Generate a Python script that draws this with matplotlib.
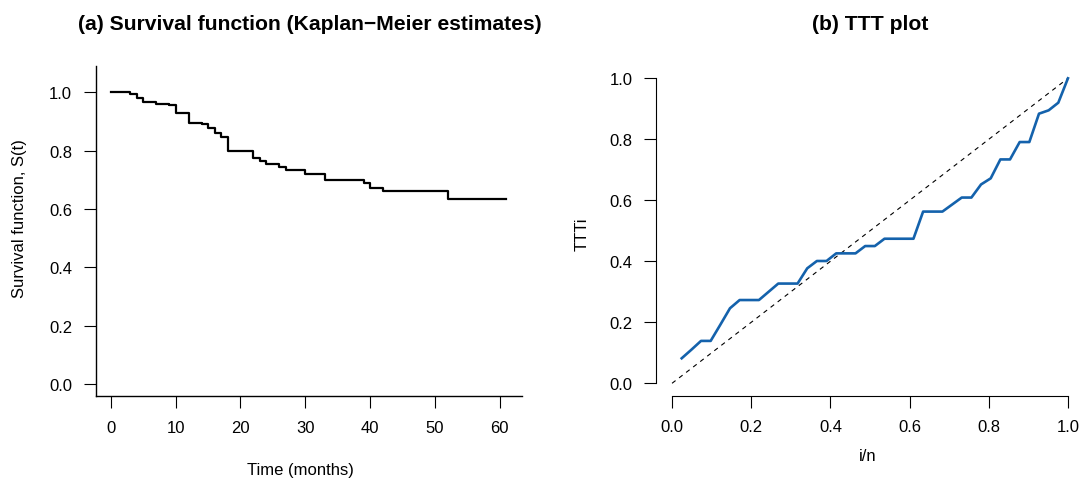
import matplotlib
matplotlib.use("Agg")
import matplotlib.pyplot as plt

plt.rcParams['font.family'] = ['Liberation Sans', 'DejaVu Sans']

# ---- Data ----
km_time = [0, 3, 4, 5, 7, 9, 10, 12, 14, 15, 16, 17, 18, 22, 23, 24, 26, 27, 30, 33, 39, 40, 42, 52, 61]
km_surv = [1.000, 0.993, 0.982, 0.967, 0.961, 0.955, 0.930, 0.896, 0.890, 0.879, 0.862, 0.845, 0.800,
           0.776, 0.765, 0.753, 0.744, 0.734, 0.720, 0.700, 0.688, 0.673, 0.660, 0.635, 0.635]

n_ttt = 41
ttt_i = list(range(1, n_ttt + 1))
ttt_val = [0.082, 0.110, 0.139, 0.139, 0.192, 0.246, 0.273, 0.273, 0.273, 0.300,
           0.327, 0.327, 0.327, 0.377, 0.401, 0.401, 0.426, 0.426, 0.426, 0.450,
           0.450, 0.474, 0.474, 0.474, 0.474, 0.563, 0.563, 0.563, 0.586, 0.609,
           0.609, 0.652, 0.672, 0.734, 0.734, 0.791, 0.791, 0.884, 0.895, 0.920,
           1.000]
ttt_x = [i / n_ttt for i in ttt_i]

km_xticks = [0, 10, 20, 30, 40, 50, 60]
unit_ticks = [0.0, 0.2, 0.4, 0.6, 0.8, 1.0]

# ---- Figure ----
W, H = 1082, 481
fig = plt.figure(figsize=(W / 100, H / 100), dpi=100)

def px_axes(x0, y0, x1, y1):
    return fig.add_axes([x0 / W, 1 - y1 / H, (x1 - x0) / W, (y1 - y0) / H])

tick_kw = dict(length=8.6, width=0.8, color='black', labelsize=12, pad=8.5)

# Panel (a)
ax1 = px_axes(96, 67, 522, 397)
ax1.step(km_time, km_surv, where='post', color='black', lw=1.6)
ax1.set_xlim(-2.3, 63.45)
ax1.set_ylim(-0.041, 1.090)
ax1.set_xticks(km_xticks)
ax1.set_xticklabels([str(v) for v in km_xticks])
ax1.set_yticks(unit_ticks)
ax1.set_yticklabels([f"{v:.1f}" for v in unit_ticks])
for s in ['top', 'right']:
    ax1.spines[s].set_visible(False)
for s in ['left', 'bottom']:
    ax1.spines[s].set_linewidth(1.0)
ax1.tick_params(**tick_kw)

# Panel (b)
ax2 = px_axes(656.2, 67.1, 1083.8, 396.5)
ax2.plot([0, 1], [0, 1], color='black', lw=0.8, linestyle=(0, (4, 4)))
ax2.plot(ttt_x, ttt_val, color='#1462AC', lw=1.9)
ax2.set_xlim(-0.04, 1.04)
ax2.set_ylim(-0.04, 1.04)
ax2.set_xticks(unit_ticks)
ax2.set_xticklabels([f"{v:.1f}" for v in unit_ticks])
ax2.set_yticks(unit_ticks)
ax2.set_yticklabels([f"{v:.1f}" for v in unit_ticks])
for s in ['top', 'right']:
    ax2.spines[s].set_visible(False)
ax2.spines['left'].set_bounds(0, 1)
ax2.spines['bottom'].set_bounds(0, 1)
for s in ['left', 'bottom']:
    ax2.spines[s].set_linewidth(0.8)
ax2.tick_params(**tick_kw)

# Titles and labels
fig.text(309.5 / W, 1 - 25 / H, "(a) Survival function (Kaplan\u2212Meier estimates)",
         ha='center', va='center', fontsize=15.2, fontweight='bold')
fig.text(870 / W, 1 - 25 / H, "(b) TTT plot",
         ha='center', va='center', fontsize=15.2, fontweight='bold')
fig.text(300 / W, 1 - 471 / H, "Time (months)", ha='center', va='center', fontsize=12)
fig.text(868 / W, 1 - 457 / H, "i/n", ha='center', va='center', fontsize=12)
fig.text(20 / W, 1 - 219 / H, "Survival function, S(t)", ha='center', va='center',
         fontsize=12, rotation=90)
fig.text(582 / W, 1 - 234 / H, "TTTi", ha='center', va='center', fontsize=12, rotation=90)

fig.savefig("out.png", dpi=100)
